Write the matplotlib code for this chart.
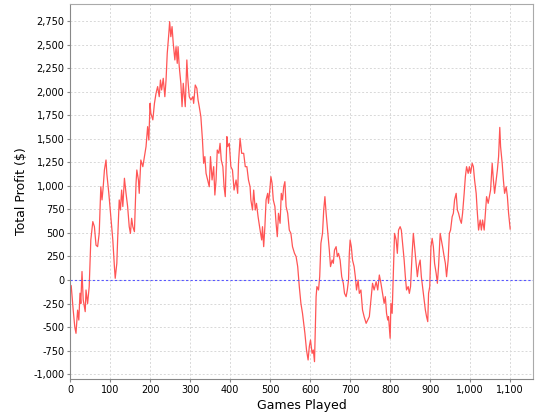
import numpy as np
import matplotlib
matplotlib.use("Agg")
import matplotlib.pyplot as plt
from matplotlib.ticker import FuncFormatter, MultipleLocator

# values (game number, total profit in $)
games = [0, 3, 8, 12, 15, 19, 22, 25, 27, 30, 33, 38, 40, 44, 48, 52, 57, 61, 65, 69,
         73, 77, 80, 83, 86, 90, 92, 97, 102, 107, 111, 113, 117, 119, 123, 126, 129, 132, 136, 140,
         144, 148, 151, 154, 157, 161, 165, 167, 171, 173, 177, 182, 186, 190, 194, 197, 200, 202, 207, 211,
         215, 219, 223, 226, 229, 233, 237, 240, 243, 247, 249, 252, 255, 258, 262, 265, 268, 270, 273, 277,
         280, 283, 286, 288, 292, 294, 298, 302, 307, 309, 313, 317, 320, 323, 327, 331, 334, 337, 340, 344,
         348, 351, 355, 359, 362, 365, 368, 372, 375, 378, 382, 385, 388, 392, 394, 398, 402, 406, 410, 415,
         419, 421, 425, 429, 434, 438, 442, 446, 450, 452, 456, 459, 463, 466, 470, 475, 479, 481, 484, 487,
         490, 494, 496, 500, 502, 505, 508, 512, 515, 518, 521, 525, 528, 531, 534, 537, 540, 544, 548, 552,
         556, 561, 565, 569, 573, 577, 581, 584, 587, 591, 595, 598, 601, 605, 608, 611, 615, 617, 621, 624,
         627, 631, 634, 637, 640, 643, 646, 648, 651, 655, 658, 661, 665, 668, 671, 675, 679, 683, 686, 690,
         693, 696, 698, 700, 703, 706, 710, 713, 716, 720, 723, 727, 731, 735, 740, 744, 748, 752, 756, 760,
         765, 769, 773, 777, 781, 785, 788, 791, 794, 796, 800, 802, 805, 808, 811, 815, 818, 821, 825, 828,
         831, 835, 838, 841, 845, 848, 851, 855, 858, 861, 865, 868, 871, 875, 878, 881, 885, 888, 891, 894,
         896, 899, 902, 905, 908, 911, 915, 918, 921, 925, 928, 931, 935, 938, 941, 945, 948, 951, 955, 958,
         961, 965, 968, 971, 975, 978, 981, 985, 988, 991, 995, 998, 1001, 1005, 1008, 1011, 1015, 1018, 1021, 1025,
         1028, 1031, 1035, 1038, 1041, 1045, 1048, 1051, 1055, 1058, 1061, 1065, 1068, 1071, 1074, 1076, 1080, 1083, 1086, 1090,
         1093, 1096, 1100]
profit = [-50, -60, -320, -500, -566, -320, -425, -140, -250, 90, -210, -336, -106, -250, -70, 425, 620, 566, 370, 354,
          495, 990, 850, 990, 1168, 1274, 1130, 920, 670, 425, 140, 18, 177, 425, 850, 743, 955, 780, 1080, 920,
          780, 566, 495, 655, 566, 513, 1026, 1168, 1062, 920, 1274, 1203, 1310, 1416, 1628, 1486, 1875, 1770, 1700, 1875,
          1982, 2053, 1946, 2123, 2017, 2141, 1946, 2123, 2406, 2619, 2743, 2583, 2690, 2513, 2336, 2477, 2300, 2477, 2265, 2088,
          1840, 2088, 1946, 1840, 2336, 2159, 1946, 1911, 1946, 1875, 2070, 2035, 1911, 1840, 1734, 1486, 1239, 1310, 1132, 1062,
          990, 1310, 1062, 1203, 902, 1062, 1380, 1345, 1451, 1274, 1203, 990, 885, 1522, 1416, 1451, 1203, 1168, 955, 1062,
          920, 1239, 1504, 1345, 1345, 1203, 1203, 1062, 990, 850, 743, 955, 743, 814, 672, 530, 425, 566, 354, 566,
          850, 920, 814, 990, 1097, 1026, 850, 780, 602, 460, 708, 602, 920, 850, 990, 1044, 780, 708, 530, 495,
          354, 283, 248, 142, -70, -248, -354, -460, -566, -743, -849, -708, -637, -779, -743, -867, -177, -70, -106, 35,
          390, 495, 743, 885, 708, 566, 425, 318, 142, 212, 177, 318, 354, 248, 283, 212, 35, -35, -142, -177,
          -106, 0, 283, 425, 354, 212, 142, 35, -106, 0, -142, -106, -318, -389, -460, -425, -389, -212, -35, -106,
          -18, -106, 53, -35, -142, -248, -177, -354, -425, -389, -619, -248, -354, 71, 495, 425, 283, 530, 566, 530,
          390, 212, 35, -106, -70, -142, -70, 283, 495, 354, 177, 35, 142, 212, 35, -70, -212, -318, -389, -442,
          -142, -70, 354, 442, 354, 177, 71, -35, 142, 495, 425, 354, 248, 177, 35, 212, 495, 530, 672, 708,
          850, 920, 743, 708, 637, 602, 708, 920, 1097, 1203, 1132, 1203, 1132, 1239, 1203, 1062, 920, 708, 530, 637,
          530, 637, 530, 708, 885, 814, 885, 955, 1239, 1062, 920, 1062, 1168, 1310, 1620, 1416, 1239, 1062, 920, 990,
          885, 708, 541]

xticks = list(range(0, 1101, 100))
yticks = list(range(-1000, 2751, 250))

fig = plt.figure(figsize=(5.4, 4.2), dpi=100)
ax = fig.add_axes([70 / 540, 1 - 379 / 420, 463 / 540, 375 / 420])

ax.plot(games, profit, color="#ff5555", lw=0.9)
ax.axhline(0, color="#5555ff", lw=0.8, ls=(0, (2, 2)))

ax.set_xlim(0, 1157)
ax.set_ylim(-1051, 2930)
ax.set_xticks(xticks)
ax.set_yticks(yticks)
fmt = FuncFormatter(lambda v, p: f"{int(v):,}")
ax.xaxis.set_major_formatter(fmt)
ax.yaxis.set_major_formatter(fmt)

ax.grid(True, color="#d8d8d8", lw=0.7, ls=(0, (2, 2)))
ax.set_axisbelow(True)
for s in ax.spines.values():
    s.set_color("#aaaaaa")
ax.spines["left"].set_color("#888888")
ax.spines["bottom"].set_color("#888888")
ax.tick_params(labelsize=7, length=2, color="#888888", pad=2)

ax.set_xlabel("Games Played", fontsize=9, labelpad=3)
ax.set_ylabel("Total Profit ($)", fontsize=9, labelpad=4)

fig.savefig("out.png", dpi=100)
